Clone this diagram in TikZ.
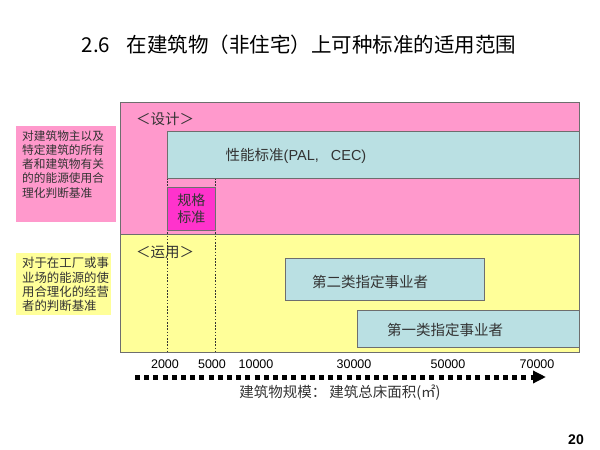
\documentclass[tikz,border=0pt]{standalone}
\usepackage{fontspec}
\setmainfont{Liberation Sans}
\newfontfamily\cjk{Noto Sans CJK SC}
\usetikzlibrary{arrows.meta}
\definecolor{pk}{HTML}{FF99CC}
\definecolor{yl}{HTML}{FFFF99}
\definecolor{bl}{HTML}{BAE0E3}
\definecolor{mg}{HTML}{FF33CC}
\definecolor{ln}{HTML}{6E6E6E}
\definecolor{tx}{HTML}{333333}
\tikzset{
  box/.style={draw=ln, line width=0.8pt, anchor=north west, inner sep=0pt, outer sep=0pt},
  plain/.style={anchor=north west, inner sep=0pt, outer sep=0pt},
  guide/.style={draw=tx, line width=0.7pt, dash pattern=on 1.6pt off 1.6pt},
  cjkt/.style={text=tx, inner sep=0pt, font=\fontsize{14.5}{17}\selectfont\cjk},
  side/.style={text=tx, inner sep=0pt, anchor=north west, align=left},
  num/.style={text=black, inner sep=0pt, font=\fontsize{12.5}{14}\selectfont},
}
\begin{document}
\begin{tikzpicture}[x=1pt,y=-1pt]
\useasboundingbox[fill=white] (0,0) rectangle (600,450);

% title
\node[inner sep=0pt, font=\fontsize{20.5}{24}\selectfont\cjk] (title) at (299,45) {2.6\hspace{0.8em}在建筑物（非住宅）上可种标准的适用范围};

% main bands
\node[box, fill=pk, minimum width=459, minimum height=132] (design) at (120,102) {};
\node[box, fill=yl, minimum width=459, minimum height=118] (oper) at (120,234) {};

% guide lines
\coordinate (g1) at (167.5,178);
\coordinate (g2) at (215,178);
\draw[guide] (g1) -- (g1 |- oper.south);
\draw[guide] (g2) -- (g2 |- oper.south);

% design boxes
\node[box, fill=bl, minimum width=411.5, minimum height=47] (pal) at (167.5,131) {};
\node[cjkt] (paltxt) at (296,156) {性能标准\fontspec{Liberation Sans}(PAL,\hspace{12pt}CEC)};
\node[box, fill=mg, minimum width=47.5, minimum height=42.5, align=center,
      font=\fontsize{14}{17}\selectfont\cjk, text=tx] (kikaku) at (167.5,187.7) {规格\\标准};

% section labels
\node[cjkt, anchor=west] (sheji) at (136,119) {＜设计＞};
\node[cjkt, anchor=west] (yunyong) at (136,252) {＜运用＞};

% operation boxes
\node[box, fill=bl, minimum width=198.5, minimum height=42.5] (cls2) at (285.7,258) {};
\node[cjkt] (cls2txt) at (370,281.5) {第二类指定事业者};
\node[box, fill=bl, minimum width=222, minimum height=37] (cls1) at (357,310) {};
\node[cjkt] (cls1txt) at (445,329.5) {第一类指定事业者};

% side labels
\node[plain, fill=pk, minimum width=100, minimum height=96.5] (lbl1) at (16,125.7) {};
\node[side, font=\fontsize{11.7}{14.3}\selectfont\cjk] (lbl1txt) at (22,130) {对建筑物主以及\\特定建筑的所有\\者和建筑物有关\\的的能源使用合\\理化判断基准};
\node[plain, fill=yl, minimum width=95, minimum height=62] (lbl2) at (16,253) {};
\node[side, font=\fontsize{12.4}{14.4}\selectfont\cjk] (lbl2txt) at (22,257) {对于在工厂或事\\业场的能源的使\\用合理化的经营\\者的判断基准};

% axis numbers
\node[num] (n1) at (165,364) {2000};
\node[num] (n2) at (212,364) {5000};
\node[num] (n3) at (256,364) {10000};
\node[num] (n4) at (354,364) {30000};
\node[num] (n5) at (448,364) {50000};
\node[num] (n6) at (537,364) {70000};

% dotted arrow
\coordinate (as) at (135,377);
\coordinate (ae) at (546,377);
\draw[line width=5pt, dash pattern=on 5pt off 4.2pt, -{Triangle[length=13pt,width=12pt]}] (as) -- (ae);

\node[cjkt, font=\fontsize{14.5}{17}\selectfont\cjk] (cap) at (340,393) {建筑物规模：\hspace{3pt}建筑总床面积(㎡)};

\node[inner sep=0pt, font=\fontsize{14}{16}\selectfont\bfseries] (page) at (576,440) {20};
\end{tikzpicture}
\end{document}
